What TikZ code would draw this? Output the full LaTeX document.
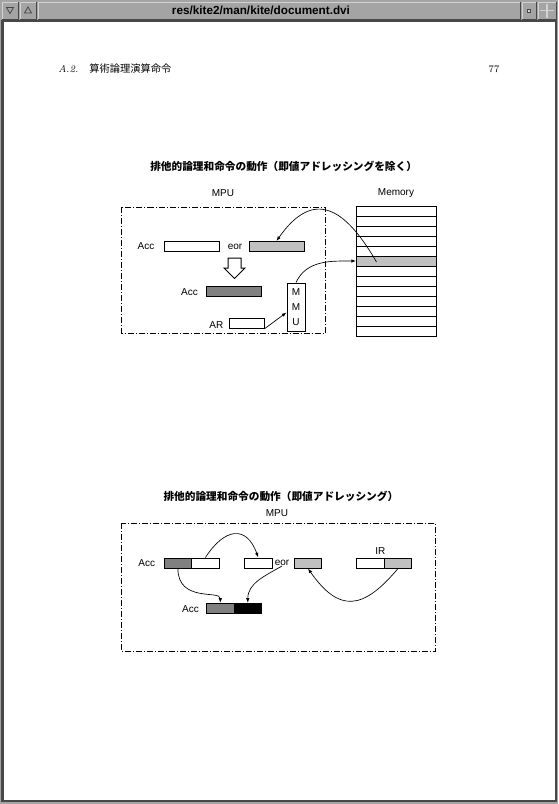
\documentclass[tikz,border=0pt]{standalone}
\usepackage{fontspec}
\newfontfamily\lblfont{Liberation Sans}
\newfontfamily\jpfont{Noto Sans CJK JP}
\usetikzlibrary{arrows.meta}
\definecolor{wingray}{HTML}{A4A4A4}
\definecolor{windark}{HTML}{484848}
\definecolor{winlight}{HTML}{D2D2D2}
\definecolor{regdark}{HTML}{808080}
\definecolor{reglight}{HTML}{C0C0C0}
\begin{document}
\begin{tikzpicture}[x=0.75pt, y=0.75pt,
    every node/.style={font=\lblfont\fontsize{7.5pt}{9pt}\selectfont, inner sep=0pt},
    reg/.style={draw, line width=0.75pt, minimum width=41.25pt, minimum height=7.5pt, inner sep=0pt},
    half/.style={reg, minimum width=20.625pt},
    memcell/.style={reg, minimum width=60pt},
    mpubox/.style={draw, line width=0.75pt, dash pattern=on 4.5pt off 1.5pt on 0.75pt off 1.5pt},
    conn/.style={line width=0.5pt, -{Latex[length=3.5pt, width=2.6pt]}},
    jptitle/.style={font=\jpfont\bfseries\fontsize{8pt}{9pt}\selectfont, anchor=west}]
    \useasboundingbox (0,0) rectangle (558,-804);

    % ウィンドウ枠
    \fill[wingray] (0,0) rectangle (558,-804);
    \foreach \xa/\xb in {2/18, 20/36, 38/520, 522/536, 538/556} {
        \draw[winlight, line width=0.75pt] (\xa,-19) -- (\xa,-2) -- (\xb,-2);
        \draw[windark, line width=0.75pt] (\xb,-2) -- (\xb,-19) -- (\xa,-19);
    }
    \draw[windark, line width=0.6pt] (6.5,-7.5) -- (13.5,-7.5) -- (10,-13.5) -- cycle;
    \draw[windark, line width=0.6pt] (24.5,-13) -- (31.5,-13) -- (28,-7) -- cycle;
    \draw[windark, fill=winlight, line width=0.6pt] (527.5,-9) rectangle (530.5,-12);
    \draw[winlight, line width=1pt] (540,-10.5) -- (554,-10.5) (547,-3.5) -- (547,-17.5);
    \node[font=\lblfont\bfseries\fontsize{8.8pt}{10pt}\selectfont] (wintitle) at (261,-10) {res/kite2/man/kite/document.dvi};
    \filldraw[fill=white, draw=windark, line width=1.5pt] (2.5,-21) rectangle (555.5,-800.5);

    % 柱
    \node[anchor=west, font=\itshape\fontsize{7.5pt}{9pt}\selectfont] (secnum) at (58,-69) {A.2.};
    \node[anchor=west, font=\jpfont\fontsize{7.7pt}{9pt}\selectfont] (sectitle) at (89,-69) {算術論理演算命令};
    \node[font=\fontsize{7.5pt}{9pt}\selectfont] (pageno) at (494,-69) {77};

    % 図1: 即値以外
    \node[jptitle] (title1) at (150,-166) {排他的論理和命令の動作（即値アドレッシングを除く）};
    \node (mpu1lbl) at (223,-193) {MPU};
    \node (memlbl) at (396,-193) {Memory};
    \draw[mpubox] (121.5,-207) rectangle (325,-333);

    \node (acc1lbl) at (146,-246.5) {Acc};
    \node[reg] (acc1) at (191.5,-246.5) {};
    \node (eor1lbl) at (235,-246.5) {eor};
    \node[reg, fill=reglight] (eor1) at (276.5,-246.5) {};
    \draw[line width=0.75pt, fill=white] (228,-258) -- (241,-258) -- (241,-268) -- (245,-268)
        -- (234.5,-278.5) -- (224,-268) -- (228,-268) -- cycle;
    \node (acc2lbl) at (189.5,-292) {Acc};
    \node[reg, fill=regdark] (acc2) at (233.5,-291.7) {};
    \node (arlbl) at (216.3,-325) {AR};
    \node[reg, minimum width=26.25pt] (ar) at (246.5,-323.3) {};
    \node[draw, line width=0.75pt, minimum width=13.5pt, minimum height=36pt, align=center,
        font=\lblfont\fontsize{7.5pt}{11pt}\selectfont] (mmu) at (296,-307) {M\\M\\U};

    % メモリ
    \foreach \i in {0,...,12} {
        \ifnum\i=5 \def\cellfill{reglight}\else\def\cellfill{white}\fi
        \node[memcell, fill=\cellfill] (mem\i) at (396.5,-211-10*\i) {};
    }
    \coordinate (memsrc) at (376.5,-262);

    \draw[conn] (memsrc) to[out=120, in=55, looseness=1.6] (eor1.north);
    \draw[conn] (mmu.north) to[out=65, in=180] (mem5.west);
    \draw[conn] (ar.south east) -- (mmu.210);

    % 図2: 即値
    \node[jptitle] (title2) at (163.3,-496) {排他的論理和命令の動作（即値アドレッシング）};
    \node (mpu2lbl) at (277,-512.7) {MPU};
    \draw[mpubox] (121.5,-523.3) rectangle (435.5,-651.7);

    \node (acc3lbl) at (146.7,-563.5) {Acc};
    \node[half, fill=regdark] (acc3L) at (177.9,-563) {};
    \node[half] (acc3R) at (205.4,-563) {};
    \node[half] (eorA) at (258.3,-563) {};
    \node (eor2lbl) at (282,-563) {eor};
    \node[half, fill=reglight] (eorB) at (308,-563) {};
    \node (irlbl) at (380.3,-550.7) {IR};
    \node[half] (irL) at (370.5,-563) {};
    \node[half, fill=reglight] (irR) at (398,-563) {};
    \node (acc4lbl) at (190.5,-609) {Acc};
    \node[half, fill=regdark] (acc4L) at (220.3,-608.3) {};
    \node[half, fill=black] (acc4R) at (247.8,-608.3) {};

    \draw[conn] (acc3R.north) to[out=57, in=110, looseness=1.7] (eorA.north);
    \draw[conn] (acc3L.south) to[out=-90, in=90, out looseness=1.6, in looseness=0.6] (acc4L.north);
    \draw[conn] (eor2lbl.south) to[out=-150, in=90] (acc4R.north);
    \draw[conn] (irR.south) to[out=-130, in=-55, looseness=1.55] (eorB.south);
\end{tikzpicture}
\end{document}
